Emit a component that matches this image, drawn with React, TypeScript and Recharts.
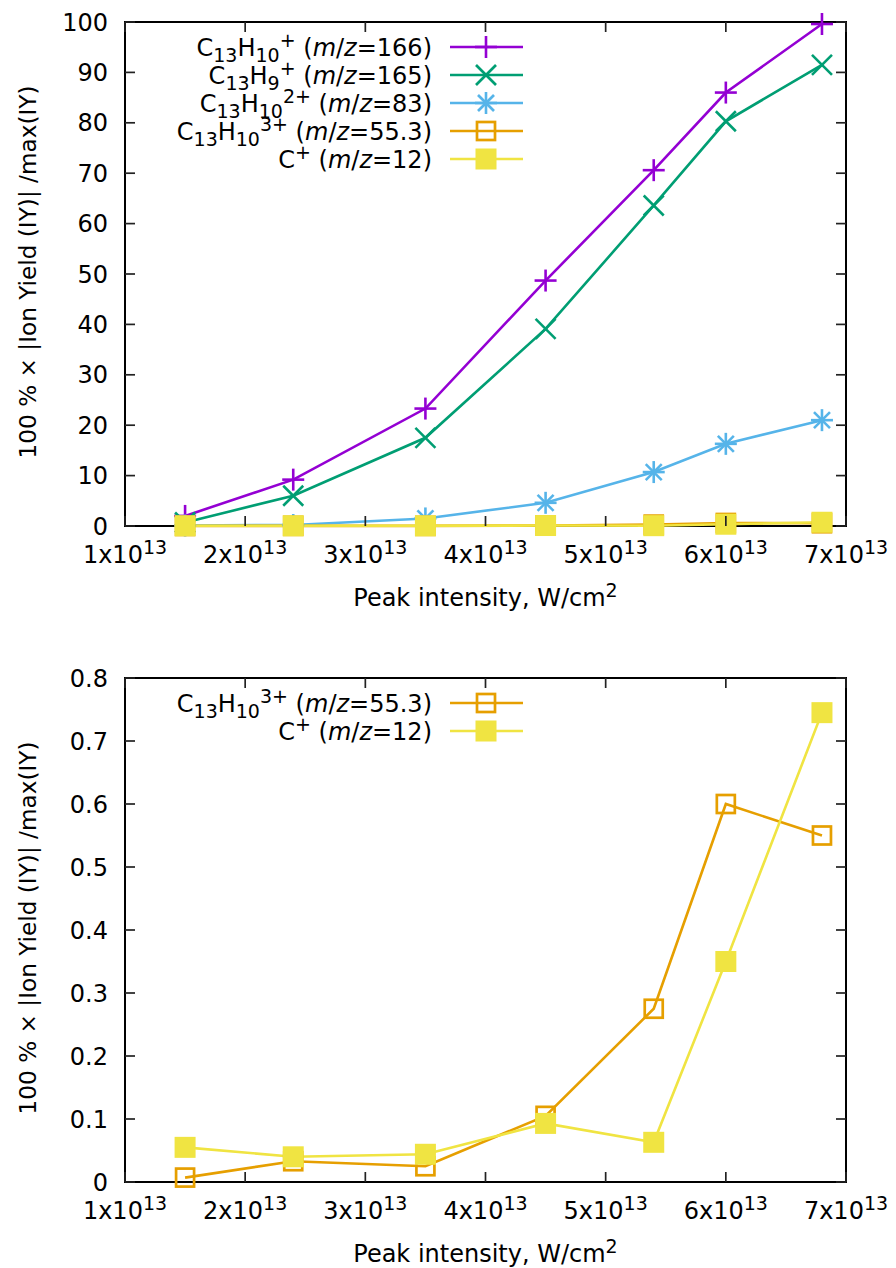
import { Legend, Line, LineChart, ReferenceArea, XAxis, YAxis } from "recharts"

const FONT = "'DejaVu Sans', sans-serif"

// peak intensity in units of 1e13 W/cm2
const intensity = [1.5, 2.4, 3.5, 4.5, 5.4, 6.0, 6.8]
// 100 % x |ion yield| / max(IY)
const yield166 = [2.0, 9.2, 23.3, 48.7, 70.6, 86.0, 99.6]
const yield165 = [0.7, 6.0, 17.5, 39.1, 63.6, 80.3, 91.5]
const yield83 = [0.1, 0.2, 1.5, 4.6, 10.7, 16.3, 21.0]
const yield553 = [0.007, 0.033, 0.025, 0.105, 0.275, 0.6, 0.55]
const yield12 = [0.055, 0.04, 0.044, 0.093, 0.063, 0.35, 0.745]

const xTicks = [1, 2, 3, 4, 5, 6, 7]
const topTicks = [0, 10, 20, 30, 40, 50, 60, 70, 80, 90, 100]
const bottomTicks = [0, 0.1, 0.2, 0.3, 0.4, 0.5, 0.6, 0.7, 0.8]

type Seg = [string, "n" | "sub" | "sup" | "it"]
type Shape = "plus" | "cross" | "star" | "box" | "fbox"

interface Series {
  key: string
  color: string
  shape: Shape
  label: Seg[]
}

const S166: Series = {
  key: "y166",
  color: "#9400d3",
  shape: "plus",
  label: [["C", "n"], ["13", "sub"], ["H", "n"], ["10", "sub"], ["+", "sup"], [" (", "n"], ["m", "it"], ["/", "n"], ["z", "it"], ["=166)", "n"]],
}
const S165: Series = {
  key: "y165",
  color: "#009e73",
  shape: "cross",
  label: [["C", "n"], ["13", "sub"], ["H", "n"], ["9", "sub"], ["+", "sup"], [" (", "n"], ["m", "it"], ["/", "n"], ["z", "it"], ["=165)", "n"]],
}
const S83: Series = {
  key: "y83",
  color: "#56b4e9",
  shape: "star",
  label: [["C", "n"], ["13", "sub"], ["H", "n"], ["10", "sub"], ["2+", "sup"], [" (", "n"], ["m", "it"], ["/", "n"], ["z", "it"], ["=83)", "n"]],
}
const S553: Series = {
  key: "y553",
  color: "#e69f00",
  shape: "box",
  label: [["C", "n"], ["13", "sub"], ["H", "n"], ["10", "sub"], ["3+", "sup"], [" (", "n"], ["m", "it"], ["/", "n"], ["z", "it"], ["=55.3)", "n"]],
}
const S12: Series = {
  key: "y12",
  color: "#f0e442",
  shape: "fbox",
  label: [["C", "n"], ["+", "sup"], [" (", "n"], ["m", "it"], ["/", "n"], ["z", "it"], ["=12)", "n"]],
}

const rows = intensity.map((x, i) => ({
  x,
  y166: yield166[i],
  y165: yield165[i],
  y83: yield83[i],
  y553: yield553[i],
  y12: yield12[i],
}))

const W = 896
const H = 634
const PL = 125
const PR = 846
const PT = 22
const PB = 526
const TICK = 10

function Marker({ shape, cx, cy, color }: { shape: Shape; cx: number; cy: number; color: string }) {
  const sw = 2.6
  if (shape === "plus")
    return (
      <g stroke={color} strokeWidth={sw}>
        <line x1={cx - 11} y1={cy} x2={cx + 11} y2={cy} />
        <line x1={cx} y1={cy - 11} x2={cx} y2={cy + 11} />
      </g>
    )
  if (shape === "cross")
    return (
      <g stroke={color} strokeWidth={sw}>
        <line x1={cx - 10} y1={cy - 10} x2={cx + 10} y2={cy + 10} />
        <line x1={cx - 10} y1={cy + 10} x2={cx + 10} y2={cy - 10} />
      </g>
    )
  if (shape === "star")
    return (
      <g stroke={color} strokeWidth={sw}>
        <line x1={cx - 11} y1={cy} x2={cx + 11} y2={cy} />
        <line x1={cx} y1={cy - 11} x2={cx} y2={cy + 11} />
        <line x1={cx - 8} y1={cy - 8} x2={cx + 8} y2={cy + 8} />
        <line x1={cx - 8} y1={cy + 8} x2={cx + 8} y2={cy - 8} />
      </g>
    )
  if (shape === "box")
    return <rect x={cx - 9} y={cy - 9} width={18} height={18} fill="none" stroke={color} strokeWidth={2.7} />
  return <rect x={cx - 10.5} y={cy - 10.5} width={21} height={21} fill={color} />
}

function RichText({ segs, x, y, anchor }: { segs: Seg[]; x: number; y: number; anchor: "start" | "middle" | "end" }) {
  let shift = 0
  return (
    <text x={x} y={y} textAnchor={anchor} fontFamily={FONT} fontSize={24} fill="#000" style={{ whiteSpace: "pre" }}>
      {segs.map(([t, kind], i) => {
        const target = kind === "sub" ? 6 : kind === "sup" ? -9 : 0
        const dy = target - shift
        shift = target
        return (
          <tspan
            key={i}
            dy={dy}
            fontSize={kind === "sub" || kind === "sup" ? 19 : 24}
            fontStyle={kind === "it" ? "italic" : "normal"}
          >
            {t}
          </tspan>
        )
      })}
    </text>
  )
}

function XTick(props: any) {
  const { x, payload } = props
  return (
    <g>
      <line x1={x} y1={PB} x2={x} y2={PB - TICK} stroke="#222" strokeWidth={1.7} />
      <line x1={x} y1={PT} x2={x} y2={PT + TICK} stroke="#222" strokeWidth={1.7} />
      <RichText segs={[[`${payload.value}x10`, "n"], ["13", "sup"]]} x={x} y={PB + 37} anchor="middle" />
    </g>
  )
}

function YTick(props: any) {
  const { y, payload } = props
  return (
    <g>
      <line x1={PL} y1={y} x2={PL + TICK} y2={y} stroke="#222" strokeWidth={1.7} />
      <line x1={PR - TICK} y1={y} x2={PR} y2={y} stroke="#222" strokeWidth={1.7} />
      <text x={PL - 17} y={y + 8.5} textAnchor="end" fontFamily={FONT} fontSize={24} fill="#000">
        {String(payload.value)}
      </text>
    </g>
  )
}

function XTitle(props: any) {
  const vb = props.viewBox
  return (
    <RichText
      segs={[["Peak intensity, W/cm", "n"], ["2", "sup"]]}
      x={vb.x + vb.width / 2}
      y={vb.y + 80}
      anchor="middle"
    />
  )
}

function YTitle(props: any) {
  const vb = props.viewBox
  const cy = vb.y + vb.height / 2 - 2
  return (
    <text
      x={36}
      y={cy}
      transform={`rotate(-90 36 ${cy})`}
      textAnchor="middle"
      fontFamily={FONT}
      fontSize={23.2}
      fill="#000"
    >
      100 % × |Ion Yield (IY)| /max(IY)
    </text>
  )
}

function KeyBox({ series }: { series: Series[] }) {
  return (
    <svg width={W} height={200} style={{ display: "block", overflow: "visible" }}>
      {series.map((s, i) => {
        const y = 47 + i * 28
        return (
          <g key={s.key}>
            <RichText segs={s.label} x={432} y={y + 8.5} anchor="end" />
            <line x1={450} y1={y} x2={523} y2={y} stroke={s.color} strokeWidth={2.6} />
            <Marker shape={s.shape} cx={486} cy={y} color={s.color} />
          </g>
        )
      })}
    </svg>
  )
}

function Panel({ series, yMax, yTicks }: { series: Series[]; yMax: number; yTicks: number[] }) {
  return (
    <LineChart width={W} height={H} data={rows} margin={{ top: PT, right: W - PR, bottom: 0, left: 0 }}>
      <ReferenceArea x1={1} x2={7} y1={0} y2={yMax} fill="none" stroke="#000" strokeWidth={2} />
      <XAxis
        type="number"
        dataKey="x"
        domain={[1, 7]}
        ticks={xTicks}
        interval={0}
        height={H - PB}
        axisLine={false}
        tickLine={false}
        tick={(p: any) => <XTick {...p} />}
        label={<XTitle />}
      />
      <YAxis
        type="number"
        domain={[0, yMax]}
        ticks={yTicks}
        interval={0}
        width={PL}
        axisLine={false}
        tickLine={false}
        tick={(p: any) => <YTick {...p} />}
        label={<YTitle />}
      />
      {series.map((s) => (
        <Line
          key={s.key}
          dataKey={s.key}
          stroke={s.color}
          strokeWidth={2.6}
          type="linear"
          isAnimationActive={false}
          dot={(p: any) => <Marker key={`${s.key}-${p.index}`} shape={s.shape} cx={p.cx} cy={p.cy} color={s.color} />}
          activeDot={false}
        />
      ))}
      <Legend
        layout="vertical"
        align="center"
        verticalAlign="middle"
        wrapperStyle={{ left: 0, top: 0, width: W, height: 200, pointerEvents: "none" }}
        content={() => <KeyBox series={series} />}
      />
    </LineChart>
  )
}

export default function App() {
  return (
    <div style={{ position: "absolute", left: 0, top: 0, width: W, height: 1268, background: "#fff" }}>
      <div style={{ position: "absolute", left: 0, top: 0 }}>
        <Panel series={[S166, S165, S83, S553, S12]} yMax={100} yTicks={topTicks} />
      </div>
      <div style={{ position: "absolute", left: 0, top: 656 }}>
        <Panel series={[S553, S12]} yMax={0.8} yTicks={bottomTicks} />
      </div>
    </div>
  )
}
